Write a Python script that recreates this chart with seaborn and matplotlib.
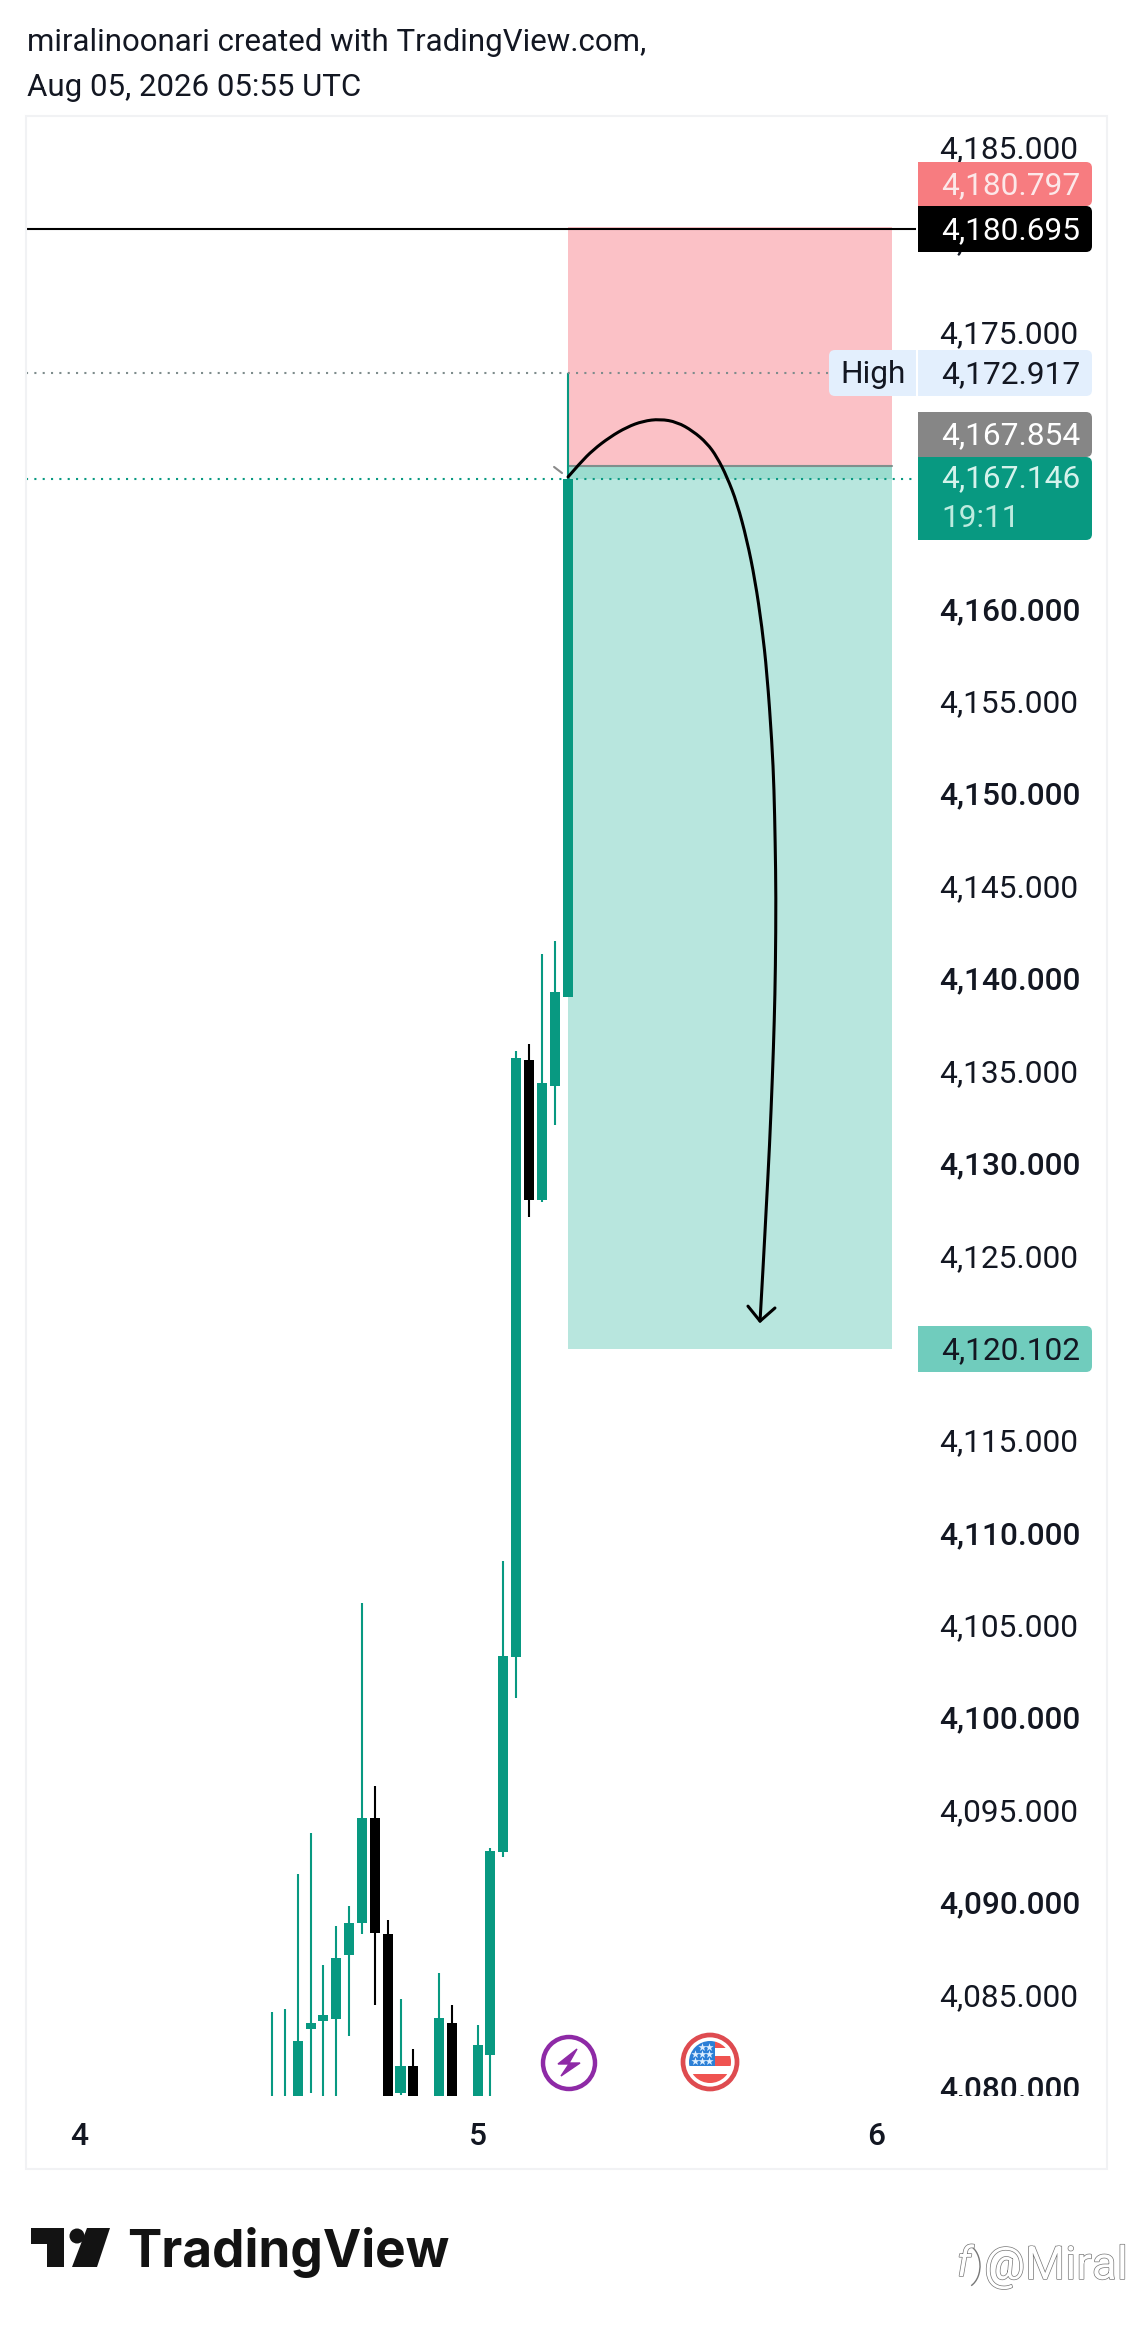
import numpy as np
import pandas as pd
import seaborn as sns
import matplotlib.pyplot as plt
import matplotlib.patheffects as pe
from matplotlib.patches import Rectangle, FancyBboxPatch, Circle, Polygon, Arc, PathPatch
from matplotlib.path import Path
from matplotlib.transforms import Bbox, Affine2D

# Candles (index = bar number, hidden parts below the axis are estimates)
candle_idx = [0, 1, 2, 3, 4, 5, 6, 7, 8, 9, 10, 11, 13, 14, 16, 17, 18, 19, 20, 21, 22, 23]
candle_open = [4077.0, 4077.0, 4078.0, 4083.31, 4083.74, 4083.81, 4087.31, 4089.01, 4094.72, 4088.43, 4079.85,
               4081.32, 4078.0, 4083.61, 4078.0, 4081.90, 4092.90, 4103.43, 4135.73, 4128.16, 4134.34, 4139.16]
candle_close = [4078.0, 4078.0, 4082.65, 4083.61, 4084.06, 4087.14, 4089.03, 4094.72, 4088.51, 4078.0, 4081.32,
                4078.0, 4083.89, 4078.0, 4082.44, 4092.92, 4103.47, 4135.84, 4128.17, 4134.49, 4139.41, 4167.146]
candle_high = [4084.21, 4084.36, 4091.66, 4093.88, 4086.76, 4088.86, 4089.93, 4106.36, 4096.47, 4089.22, 4084.90,
               4082.20, 4086.31, 4084.58, 4083.49, 4093.07, 4108.63, 4136.22, 4136.58, 4141.47, 4142.17, 4172.917]
candle_low = [4076.0, 4076.0, 4077.0, 4079.83, 4078.0, 4078.0, 4082.93, 4088.45, 4084.62, 4077.0, 4079.72,
              4077.0, 4077.0, 4077.0, 4077.0, 4078.0, 4092.62, 4101.22, 4127.25, 4128.07, 4132.23, 4139.16]

# Price scale (4,165 / 4,170 / 4,120 sit fully behind the price boxes)
price_ticks = [4080, 4085, 4090, 4095, 4100, 4105, 4110, 4115, 4125, 4130, 4135, 4140, 4145, 4150, 4155, 4160,
               4175, 4180, 4185]
bold_ticks = [4080, 4090, 4100, 4110, 4130, 4140, 4150, 4160]
day_ticks = [-15, 16, 47]
day_labels = ['4', '5', '6']

# Position tool and levels
stop_price = 4180.797
entry_price = 4167.854
target_price = 4120.102
line_price = 4180.695
high_price = 4172.917
last_price = 4167.146
box_start = 23
box_end = 48.25

# Hand drawn curve
curve_x = [23.04, 23.97, 24.98, 26.30, 27.63, 28.87, 30.19, 31.52, 32.76, 33.85, 34.63, 35.41, 36.19, 36.96, 37.59,
           38.13, 38.52, 38.91, 39.07, 39.16, 39.22, 39.18, 39.09, 38.95, 38.72, 38.45, 38.25, 37.98]
curve_y = [4167.28, 4168.03, 4168.74, 4169.44, 4169.98, 4170.30, 4170.41, 4170.25, 4169.76, 4169.11, 4168.36,
           4167.28, 4165.87, 4163.87, 4161.70, 4159.16, 4156.67, 4152.88, 4150.39, 4147.47, 4144.60,
           4140.71, 4137.84, 4134.92, 4131.07, 4127.56, 4124.90, 4121.60]
head_x = [37.04, 37.98, 39.14]
head_y = [4122.41, 4121.60, 4122.31]

GREEN = '#089981'
W, H = 1131, 2328
TICK_SIZE = 22.8

sns.set_theme(style='white')
plt.rcParams['font.family'] = ['Roboto', 'DejaVu Sans']

candles = pd.DataFrame({'i': candle_idx, 'open': candle_open, 'close': candle_close,
                        'high': candle_high, 'low': candle_low})
candles['bottom'] = candles[['open', 'close']].min(axis=1)
candles['height'] = (candles['close'] - candles['open']).abs()
up = candles[candles['close'] >= candles['open']]
down = candles[candles['close'] < candles['open']]

fig = plt.figure(figsize=(W / 100, H / 100), dpi=100, facecolor='white')
ax = fig.add_axes([26 / W, 1 - 2096 / H, (916 - 26) / W, (2096 - 116) / H])
ax.patch.set_alpha(0)

# Position boxes
ax.fill_between([box_start, box_end], entry_price, stop_price, color='#FBC1C6', lw=0, zorder=1)
ax.fill_between([box_start, box_end], target_price, entry_price, color='#B8E6DE', lw=0, zorder=1)
ax.fill_between([box_start, box_end], last_price, entry_price, color='#9BDCCF', lw=0, zorder=1)
ax.plot([box_start, box_end], [entry_price, entry_price], color='#7F8F8C', lw=1.5, zorder=2)

# Candles
for part, colour in [(up, GREEN), (down, 'black')]:
    ax.vlines(part['i'], part['low'], part['high'], color=colour, lw=1.5, zorder=3)
    sns.barplot(data=part, x='i', y='height', bottom=part['bottom'], native_scale=True, width=0.78,
                color=colour, saturation=1, errorbar=None, linewidth=0, zorder=3, ax=ax)

# Level lines
ax.axhline(line_price, color='black', lw=1.5, zorder=4)
ax.axhline(high_price, color='#7E8C8C', lw=1.5, ls=(0, (1, 3)), zorder=4)
ax.axhline(last_price, color=GREEN, lw=1.5, ls=(0, (1, 3)), zorder=4)

# Curve with arrow: the read points act as quadratic control points so the stroke stays smooth
ax.plot([21.95, 22.57], [4167.82, 4167.49], color='#8A8A8A', lw=1.5, zorder=4)
pts = np.column_stack([curve_x, curve_y])
verts = [pts[0]]
codes = [Path.MOVETO]
for k in range(1, len(pts) - 1):
    end = pts[k + 1] if k == len(pts) - 2 else (pts[k] + pts[k + 1]) / 2
    verts += [pts[k], end]
    codes += [Path.CURVE3, Path.CURVE3]
ax.add_patch(PathPatch(Path(verts, codes), fill=False, ec='black', lw=2.2, zorder=5, capstyle='round'))
ax.plot(head_x, head_y, color='black', lw=2.2, zorder=5)

ax.set_xlim((26 - 272) / 12.85, (916 - 272) / 12.85)
ax.set_ylim(4079.67, 4186.81)
ax.set_xlabel('')
ax.set_ylabel('')
sns.despine(ax=ax, left=True, bottom=True)

ax.yaxis.tick_right()
ax.set_yticks(price_ticks)
ax.set_yticklabels([f'{p:,.3f}' for p in price_ticks])
ax.tick_params(axis='y', length=0, pad=17, labelsize=TICK_SIZE, labelcolor='#131722')
clip = Bbox.from_extents(0, H - 2096, W, H)
nudge = Affine2D().translate(0, 3)
for tick, p in zip(ax.yaxis.get_major_ticks(), price_ticks):
    tick.label2.set_clip_on(True)
    tick.label2.set_clip_box(clip)
    tick.label2.set_transform(tick.label2.get_transform() + nudge)
    tick.label2.set_fontweight('medium' if p in bold_ticks else 'normal')
ax.set_xticks(day_ticks)
ax.set_xticklabels(day_labels)
ax.tick_params(axis='x', length=0, pad=19, labelsize=TICK_SIZE, labelcolor='#131722')
for lab in ax.get_xticklabels():
    lab.set_fontweight('medium')

# Everything around the chart sits on a pixel overlay
ov = fig.add_axes([0, 0, 1, 1], zorder=10)
ov.set_xlim(0, W)
ov.set_ylim(H, 0)
ov.axis('off')
ov.add_patch(Rectangle((26, 116), 1107 - 26, 2169 - 116, fill=False, ec='#F1F2F4', lw=1.5))


def price_box(y0, y1, colour, label, text_colour, x0=918, x1=1092, tx=941):
    ov.add_patch(FancyBboxPatch((x0, y0), x1 - x0, y1 - y0, boxstyle='round,pad=0,rounding_size=6',
                                fc=colour, ec='none'))
    ov.add_patch(Rectangle((x0, y0), 20, y1 - y0, fc=colour, ec='none'))
    if label:
        ov.text(tx, (y0 + y1) / 2 + 10, label, color=text_colour, fontsize=TICK_SIZE, va='baseline', ha='left')


price_box(162, 206, '#F77C80', '4,180.797', '#FCE8E9')
price_box(206, 252, 'black', '4,180.695', 'white')
price_box(350, 396, '#E3EFFD', '4,172.917', '#131722')
price_box(412, 457, '#868686', '4,167.854', 'white')
price_box(457, 540, GREEN, '', '#D5F3EC')
ov.text(941, 487, '4,167.146', color='#D5F3EC', fontsize=TICK_SIZE, va='baseline')
ov.text(941, 527, '19:11', color='#BDEBDF', fontsize=TICK_SIZE, va='baseline')
price_box(1326, 1372, '#70CCBD', '4,120.102', '#131722')
ov.add_patch(FancyBboxPatch((829, 350), 87, 46, boxstyle='round,pad=0,rounding_size=6', fc='#E3EFFD', ec='none'))
ov.add_patch(Rectangle((880, 350), 36, 46, fc='#E3EFFD', ec='none'))
ov.text(873, 383, 'High', color='#131722', fontsize=TICK_SIZE, ha='center', va='baseline')

# Header
ov.text(27, 51, 'miralinoonari created with TradingView.com,', color='#131722', fontsize=22.5, va='baseline')
ov.text(27, 96, 'Aug 05, 2026 05:55 UTC', color='#131722', fontsize=22.5, va='baseline')

# Lightning icon
ov.add_patch(Circle((569, 2063), 26, fc='white', ec='#8E2AA6', lw=3.2))
ov.add_patch(Polygon([(577, 2049), (558, 2064), (569, 2064), (561, 2076), (580, 2063), (569, 2063)],
                     fc='#8E2AA6', ec='#8E2AA6', lw=1))

# Flag icon
ov.add_patch(Circle((710, 2062), 27, fc='white', ec='#DE4B50', lw=3.4))
disc = Circle((710, 2062), 21, fc='white', ec='none')
ov.add_patch(disc)
for x, y, w, h, c in [(689, 2040, 26, 26, '#2B7FD6'), (715, 2040, 18, 8, '#EF5350'), (715, 2056, 18, 10, '#EF5350'),
                      (687, 2074, 46, 10, '#EF5350')]:
    r = Rectangle((x, y), w, h, fc=c, ec='none')
    ov.add_patch(r)
    r.set_clip_path(disc)
ov.scatter([702, 709, 695, 702, 709, 695, 702, 709], [2047, 2047, 2054, 2054, 2054, 2061, 2061, 2061],
           marker='*', s=38, color='#DDEEFF', lw=0, zorder=5)

# TradingView logo
ov.add_patch(Polygon([(31, 2228), (63.5, 2228), (63.5, 2267), (47, 2267), (47, 2244), (31, 2244)], fc='#131313', ec='none'))
ov.add_patch(Circle((77, 2236), 7.5, fc='#131313', ec='none'))
ov.add_patch(Polygon([(87, 2228), (110, 2228), (97, 2267), (72, 2267)], fc='#131313', ec='none'))
ov.text(127, 2267, 'TradingView', color='#131313', fontsize=37, fontweight='bold', family=['Inter', 'DejaVu Sans'],
        va='baseline')

# Watermark
stroke = [pe.withStroke(linewidth=1.0, foreground='#777777')]
ov.text(984, 2279, '@Miral', color='white', fontsize=33, va='baseline', path_effects=stroke, clip_on=True)
ov.text(957, 2276, 'f', color='white', fontsize=30, style='italic', va='baseline', path_effects=stroke)
ov.add_patch(Arc((964, 2266), 32, 44, theta1=-80, theta2=70, ec='#777777', lw=1.0))

fig.savefig('out.png', dpi=100)
